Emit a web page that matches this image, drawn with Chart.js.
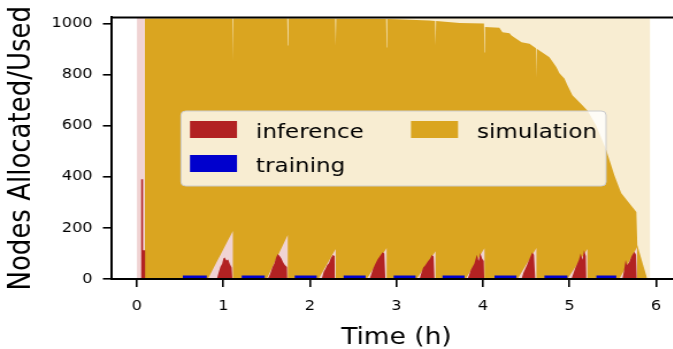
<!DOCTYPE html>
<html lang="en">
<head>
<meta charset="UTF-8">
<script src="https://cdn.jsdelivr.net/npm/chart.js"></script>
<title>Nodes allocated / used</title>
<style>
  html, body { margin: 0; padding: 0; overflow: hidden; background: #fff; }
  /* the reference figure is a bit wider than tall-scaled, so stretch it */
  #wrap { width: 600px; height: 349px; transform: scaleX(1.15); transform-origin: 0 0; }
</style>
</head>
<body>
<div id="wrap"><canvas id="myChart"></canvas></div>
<script>
// ticks
const xTicks = [0, 1, 2, 3, 4, 5, 6]
const yTicks = [0, 200, 400, 600, 800, 1000]
const seriesNames = ['inference', 'simulation', 'training']

// simulation: nodes allocated (pale) and used
const simAllocTime  = [0.09, 0.09, 5.935, 5.935]
const simAllocNodes = [0, 1024, 1024, 0]
const simTime = [0.09, 0.09, 1.103, 1.109, 1.115, 1.738, 1.744, 1.750, 2.292, 2.298, 2.304,
  2.881, 2.887, 2.893, 3.0, 3.38, 3.447, 3.453, 3.459, 3.73, 4.012, 4.018, 4.024,
  4.19, 4.226, 4.307, 4.33, 4.446, 4.538, 4.613, 4.619, 4.625, 4.769, 4.85, 4.885,
  4.942, 4.977, 5.035, 5.15, 5.208, 5.31, 5.427, 5.52, 5.543, 5.6, 5.693, 5.774, 5.785, 5.9]
const simUsed = [0, 1020, 1020, 855, 1020, 1020, 914, 1020, 1019, 914, 1019,
  1018, 906, 1018, 1017, 1012, 1010, 914, 1010, 1002, 1000, 887, 986,
  983, 966, 962, 953, 927, 921, 903, 789, 901, 868, 829, 805,
  785, 758, 719, 680, 660, 600, 504, 406, 386, 336, 297, 262, 133, 0]

// inference: nodes allocated (pink ramps) and used (red)
const infAllocTime = [0, 0, 0.09, 0.09,
  0.82, 1.109, 1.109, 1.50, 1.744, 1.744, 2.10, 2.298, 2.298, 2.656, 2.887, 2.887,
  3.233, 3.453, 3.453, 3.80, 4.018, 4.018, 4.40, 4.619, 4.619, 4.977, 5.208, 5.208,
  5.577, 5.785, 5.785]
const infAllocNodes = [0, 1024, 1024, 0,
  0, 188, 0, 0, 172, 0, 0, 117, 0, 0, 121, 0,
  0, 109, 0, 0, 120, 0, 0, 121, 0, 0, 117, 0,
  0, 126, 0]
const infTime = [0.046, 0.046, 0.07, 0.07, 0.095, 0.095,
  0.924, 0.945, 0.965, 0.985, 1.0, 1.015, 1.035, 1.055, 1.075, 1.095, 1.103,
  1.513, 1.54, 1.565, 1.59, 1.61, 1.628, 1.65, 1.67, 1.69, 1.71, 1.735, 1.738,
  2.136, 2.16, 2.18, 2.2, 2.22, 2.24, 2.265, 2.285, 2.287,
  2.69, 2.71, 2.73, 2.75, 2.78, 2.81, 2.84, 2.86, 2.872,
  3.268, 3.29, 3.31, 3.33, 3.36, 3.39, 3.41, 3.43, 3.44,
  3.822, 3.84, 3.86, 3.88, 3.9, 3.93, 3.95, 3.97, 3.99, 4.01, 4.015,
  4.446, 4.47, 4.49, 4.51, 4.54, 4.57, 4.59, 4.605,
  5.023, 5.05, 5.07, 5.09, 5.11, 5.13, 5.15, 5.17, 5.19, 5.195,
  5.612, 5.63, 5.65, 5.665, 5.69, 5.72, 5.75, 5.77, 5.78]
const infUsed = [0, 390, 390, 113, 113, 0,
  0, 25, 48, 60, 80, 84, 72, 76, 58, 45, 0,
  0, 20, 45, 62, 85, 98, 90, 80, 66, 55, 47, 0,
  0, 28, 40, 55, 62, 80, 94, 90, 0,
  0, 20, 40, 55, 75, 90, 105, 100, 0,
  0, 25, 45, 52, 68, 80, 94, 88, 0,
  0, 15, 35, 48, 60, 95, 70, 102, 80, 70, 0,
  0, 25, 40, 55, 80, 104, 95, 0,
  0, 25, 45, 60, 75, 100, 75, 113, 90, 0,
  0, 30, 74, 55, 65, 90, 107, 95, 0]

// training: blocks of nodes
const trainStart = [0.531, 1.212, 1.824, 2.390, 2.968, 3.533, 4.134, 4.711, 5.312]
const trainEnd   = [0.808, 1.478, 2.079, 2.644, 3.222, 3.788, 4.388, 4.977, 5.543]
const trainNodes = [14, 14, 14, 14, 14, 14, 14, 14, 14]

const pts = (xs, ys) => xs.map((x, i) => ({x: x, y: ys[i]}))
function trainPts() {
  let out = []
  trainStart.forEach((s, i) => {
    out.push({x: s, y: 0}, {x: s, y: trainNodes[i]}, {x: trainEnd[i], y: trainNodes[i]}, {x: trainEnd[i], y: 0})
  })
  return out
}

const FONT = 'DejaVu Sans'
const colors = {inference: '#b22222', simulation: '#daa520', training: '#0000cd'}

function area(label, data, color, order) {
  return {label: label, data: data, backgroundColor: color, borderColor: 'transparent',
    borderWidth: 0, pointRadius: 0, tension: 0, fill: 'origin', order: order}
}

// legend drawn inside the plot, like the reference
const legendBox = {
  id: 'legendBox',
  afterDraw(chart) {
    const ctx = chart.ctx
    ctx.save()
    ctx.beginPath()
    ctx.roundRect(157.4, 111, 369.6, 75, 4)
    ctx.fillStyle = 'rgba(255,255,255,0.8)'
    ctx.fill()
    ctx.strokeStyle = '#cccccc'
    ctx.lineWidth = 1
    ctx.stroke()
    const items = [
      {name: seriesNames[0], x: 165.2, y: 121},
      {name: seriesNames[1], x: 357.4, y: 121},
      {name: seriesNames[2], x: 165.2, y: 155}
    ]
    ctx.font = '20px "' + FONT + '"'
    ctx.textBaseline = 'alphabetic'
    items.forEach(it => {
      ctx.fillStyle = colors[it.name]
      ctx.fillRect(it.x, it.y, 40.9, 17)
      ctx.fillStyle = '#000'
      ctx.fillText(it.name, it.x + 57.4, it.y + 16.5)
    })
    // top spine
    const a = chart.chartArea
    ctx.beginPath()
    ctx.moveTo(a.left, a.top)
    ctx.lineTo(a.right, a.top)
    ctx.strokeStyle = '#000'
    ctx.lineWidth = 2
    ctx.stroke()
    ctx.restore()
  }
}

new Chart(document.getElementById('myChart'), {
  type: 'line',
  data: {
    datasets: [
      area('training', trainPts(), colors.training, 1),
      area('inference', pts(infTime, infUsed), colors.inference, 2),
      area('inference allocated', pts(infAllocTime, infAllocNodes), '#f0d3d3', 3),
      area('simulation', pts(simTime, simUsed), colors.simulation, 4),
      area('simulation allocated', pts(simAllocTime, simAllocNodes), '#f8edd2', 5)
    ]
  },
  options: {
    responsive: true,
    maintainAspectRatio: false,
    animation: false,
    parsing: false,
    layout: {padding: {left: 0, right: 7.1, top: 17, bottom: 0}},
    plugins: {legend: {display: false}, tooltip: {enabled: false}},
    scales: {
      x: {
        type: 'linear', min: -0.3, max: 6.3,
        afterBuildTicks: s => { s.ticks = xTicks.map(v => ({value: v})) },
        afterFit: s => { s.height = 70 },
        grid: {drawOnChartArea: false, color: '#000', lineWidth: 1.6, tickLength: 8},
        border: {color: '#000', width: 2, z: 1},
        ticks: {autoSkip: false, maxRotation: 0, padding: 11, color: '#000',
          font: {family: FONT, size: 14}, callback: v => String(v)},
        title: {display: true, text: 'Time (h)', color: '#000', padding: {top: 0, bottom: -3},
          font: {family: FONT, size: 23}}
      },
      y: {
        type: 'linear', min: 0, max: 1024,
        afterBuildTicks: s => { s.ticks = yTicks.map(v => ({value: v})) },
        afterFit: s => { s.width = 96.5 },
        grid: {drawOnChartArea: false, color: '#000', lineWidth: 1.6, tickLength: 7},
        border: {color: '#000', width: 2, z: 1},
        ticks: {padding: 9, color: '#000', font: {family: FONT, size: 14}, callback: v => String(v)},
        title: {display: true, text: 'Nodes Allocated/Used', color: '#000', padding: {top: 3.5, bottom: 0},
          font: {family: FONT, size: 26}}
      }
    }
  },
  plugins: [legendBox]
})
</script>
</body>
</html>
